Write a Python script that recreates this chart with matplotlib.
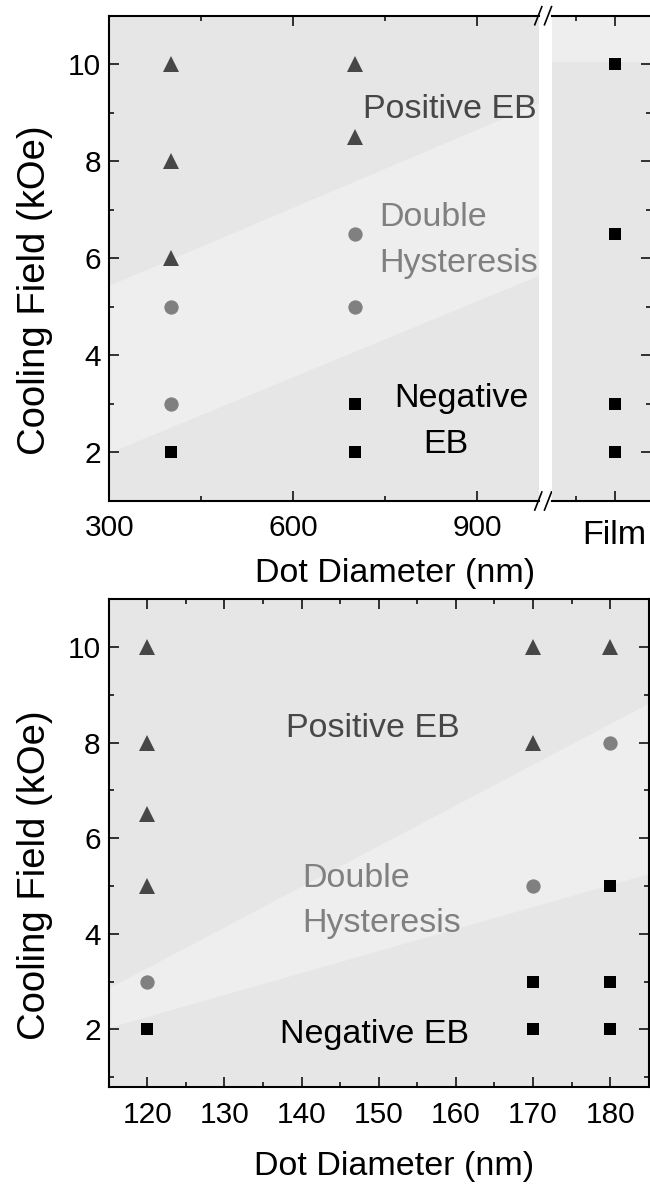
import matplotlib.pyplot as plt
from matplotlib.ticker import MultipleLocator, FixedLocator

plt.rcParams['font.family'] = 'Liberation Sans'

# --- top panel: 400 / 700 nm dots and the continuous film ---
top_pos_x = [400, 400, 400, 700, 700]
top_pos_y = [10, 8, 6, 10, 8.5]
top_dbl_x = [400, 400, 700, 700]
top_dbl_y = [5, 3, 6.5, 5]
top_neg_x = [400, 700, 700]
top_neg_y = [2, 3, 2]
film_neg_y = [10, 6.5, 3, 2]

# phase boundaries (lower / upper edge of the double hysteresis band)
top_band_x = [300, 1000]
top_band_lo = [2.0, 5.65]
top_band_hi = [5.45, 9.2]
film_band_lo = 10.05

# --- bottom panel: 120 / 170 / 180 nm dots ---
bot_pos_x = [120, 120, 120, 120, 170, 170, 180]
bot_pos_y = [10, 8, 6.5, 5, 10, 8, 10]
bot_dbl_x = [120, 170, 180]
bot_dbl_y = [3, 5, 8]
bot_neg_x = [120, 170, 170, 180, 180, 180]
bot_neg_y = [2, 3, 2, 5, 3, 2]

bot_band_x = [115, 185]
bot_band_lo = [2.04, 5.26]
bot_band_hi = [2.87, 8.83]

BG = '#e6e6e6'
BAND = '#eeeeee'
C_POS = '#474747'
C_DBL = '#808080'
C_NEG = 'black'
TICK_FS = 21.5
XLAB_FS = 24.5
YLAB_FS = 27.5
NOTE_FS = 24.5


def style(ax, left=True, right=True, xpad=9.5):
    for s in ax.spines.values():
        s.set_linewidth(1.5)
    ax.spines['left'].set_visible(left)
    ax.spines['right'].set_visible(right)
    ax.tick_params(which='both', direction='in', top=True, bottom=True,
                   left=left, right=right, width=1.1, labelsize=TICK_FS)
    ax.tick_params(axis='x', pad=xpad)
    ax.tick_params(axis='y', pad=5.8)
    ax.tick_params(which='major', length=7)
    ax.tick_params(which='minor', length=3.6)
    ax.yaxis.set_major_locator(FixedLocator([2, 4, 6, 8, 10]))
    ax.yaxis.set_minor_locator(MultipleLocator(1))


def markers(ax, px, py, dx, dy, nx, ny):
    ax.plot(px, py, '^', color=C_POS, ms=11.3, mew=0, ls='none', zorder=3)
    ax.plot(dx, dy, 'o', color=C_DBL, ms=10.3, mew=0, ls='none', zorder=3)
    ax.plot(nx, ny, 's', color=C_NEG, ms=9.2, mew=0, ls='none', zorder=3)


fig = plt.figure(figsize=(6.5, 11.86), dpi=100)

# top panel, split x axis
ax1 = fig.add_axes([0.16815, 0.57757, 0.66046, 0.40919], facecolor=BG)
ax1f = fig.add_axes([0.84923, 0.57757, 0.15231, 0.40919], facecolor=BG)

ax1.fill_between(top_band_x, top_band_lo, top_band_hi, color=BAND, lw=0, zorder=0)
markers(ax1, top_pos_x, top_pos_y, top_dbl_x, top_dbl_y, top_neg_x, top_neg_y)
ax1.set_xlim(300, 1000)
ax1.set_ylim(1, 11)
style(ax1, left=True, right=False)
ax1.xaxis.set_major_locator(FixedLocator([300, 600, 900]))
ax1.xaxis.set_minor_locator(FixedLocator([450, 750]))

ax1.text(713, 8.886, 'Positive EB', color=C_POS, fontsize=NOTE_FS)
ax1.text(740, 6.673, 'Double', color=C_DBL, fontsize=NOTE_FS)
ax1.text(740, 5.725, 'Hysteresis', color=C_DBL, fontsize=NOTE_FS)
ax1.text(765, 2.94, 'Negative', color=C_NEG, fontsize=NOTE_FS)
ax1.text(812, 1.98, 'EB', color=C_NEG, fontsize=NOTE_FS)

ax1.set_xlabel('Dot Diameter (nm)', fontsize=XLAB_FS)
ax1.xaxis.label.set_va('baseline')
ax1.xaxis.set_label_coords(0.6655, -0.1663)
ax1.set_ylabel('Cooling Field (kOe)', fontsize=YLAB_FS)
ax1.yaxis.set_label_coords(-0.1304, 0.4348)

ax1f.axhspan(film_band_lo, 11, color=BAND, lw=0, zorder=0)
ax1f.plot([1.0] * len(film_neg_y), film_neg_y, 's', color=C_NEG, ms=9.2,
          mew=0, ls='none', zorder=3)
ax1f.set_xlim(0.196, 1.465)
ax1f.set_ylim(1, 11)
style(ax1f, left=False, right=True, xpad=13.5)
ax1f.tick_params(labelleft=False)
ax1f.xaxis.set_major_locator(FixedLocator([1.0]))
ax1f.xaxis.set_minor_locator(FixedLocator([0.5]))
ax1f.set_xticklabels(['Film'], fontsize=NOTE_FS)

# axis break marks
for yb in (0.0, 1.0):
    for xb in (0.9993, 1.0219):
        ax1.plot([xb - 0.0082, xb + 0.0082], [yb - 0.0186, yb + 0.0186],
                 color='black', lw=1.2, transform=ax1.transAxes,
                 clip_on=False, zorder=5)

# bottom panel
ax2 = fig.add_axes([0.16723, 0.08373, 0.83077, 0.41096], facecolor=BG)
ax2.fill_between(bot_band_x, bot_band_lo, bot_band_hi, color=BAND, lw=0, zorder=0)
markers(ax2, bot_pos_x, bot_pos_y, bot_dbl_x, bot_dbl_y, bot_neg_x, bot_neg_y)
ax2.set_xlim(115, 185)
ax2.set_ylim(0.8, 11)
style(ax2, xpad=10.3)
ax2.xaxis.set_major_locator(MultipleLocator(10))
ax2.xaxis.set_minor_locator(MultipleLocator(5))

ax2.text(138.0, 8.12, 'Positive EB', color=C_POS, fontsize=NOTE_FS)
ax2.text(140.1, 4.975, 'Double', color=C_DBL, fontsize=NOTE_FS)
ax2.text(140.1, 4.03, 'Hysteresis', color=C_DBL, fontsize=NOTE_FS)
ax2.text(137.2, 1.71, 'Negative EB', color=C_NEG, fontsize=NOTE_FS)

ax2.set_xlabel('Dot Diameter (nm)', fontsize=XLAB_FS)
ax2.xaxis.label.set_va('baseline')
ax2.xaxis.set_label_coords(0.5283, -0.1812)
ax2.set_ylabel('Cooling Field (kOe)', fontsize=YLAB_FS)
ax2.yaxis.set_label_coords(-0.1026, 0.4343)

fig.savefig('out.png', dpi=100)
